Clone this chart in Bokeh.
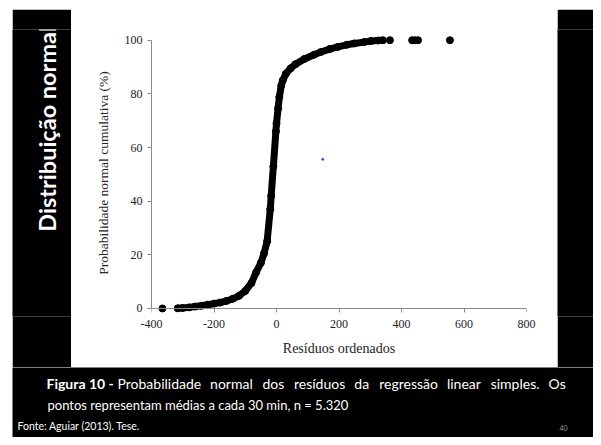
import math
from bokeh.plotting import figure
from bokeh.layouts import row, column
from bokeh.models import Range1d, FixedTicker, LinearAxis
from bokeh.core.properties import value
from bokeh.embed import file_html
from bokeh.resources import INLINE

# ---- data ----
# dense part of the ordered residual curve (Resíduos ordenados, probability %)
curve_x = [-316, -300, -280, -260, -240, -220, -200, -180, -160, -140, -120, -100,
           -80, -65, -50, -40, -30, -20, -17, -10, -2, 0, 5, 9, 15, 20, 30, 45,
           60, 89, 120, 142, 170, 196, 225, 249, 280, 302, 325, 340]
curve_y = [0.05, 0.2, 0.4, 0.7, 1.0, 1.4, 1.8, 2.2, 2.8, 3.6, 4.7, 6.5,
           9.5, 13.5, 17.0, 20.5, 25.0, 37.0, 42.0, 53.0, 66.0, 69.0, 74.5, 78.8, 83.0, 85.0, 87.5, 89.5,
           91.0, 93.0, 94.6, 95.6, 96.7, 97.5, 98.3, 98.8, 99.3, 99.7, 99.9, 100.0]
# isolated extreme residuals
tail_x = [-365, 363, 434, 443, 453, 555]
tail_y = [0.0, 100.0, 100.0, 100.0, 100.0, 100.0]
# stray blue mark in the original figure
stray_x = [148]
stray_y = [55.6]

x_ticks = [-400, -200, 0, 200, 400, 600, 800]
x_tick_labels = ["-400", "-200", "0", "200", "400", "600", "800"]
y_ticks = [0, 20, 40, 60, 80, 100]

title_text = "Distribuição normal"
cap_bold = "Figura 10 -"
cap_line1 = "Probabilidade normal dos resíduos da regressão linear simples. Os"
cap_line2 = "pontos representam médias a cada 30 min, n = 5.320"
cap_source = "Fonte: Aguiar (2013). Tese."
slide_no = "40"

SERIF = "Liberation Serif"
SANS = "Lato"
AX = "#8a8a8a"
INK = "#222222"

W_TOTAL, H_TOTAL = 593, 437
PAD_L, PAD_T = 12, 7          # white page edge around the slide
BAND = 2                      # black band above the chart panel
W_LEFT, W_CHART = 59, 486
W_RIGHT = W_TOTAL - PAD_L - W_LEFT - W_CHART
H_CHART = 358
H_CAP = H_TOTAL - PAD_T - BAND - H_CHART
W_SLIDE = W_TOTAL - PAD_L


def blank(w, h, color):
    f = figure(width=w, height=h, output_backend="svg", toolbar_location=None, min_border=0,
               x_axis_type=None, y_axis_type=None,
               background_fill_color=color, border_fill_color=color, outline_line_color=None)
    f.grid.visible = False
    return f


# ---- chart ----
p = figure(width=W_CHART, height=H_CHART, x_range=Range1d(-400, 800), y_range=Range1d(-3, 104),
           output_backend="svg", toolbar_location=None, x_axis_location=None,
           min_border_left=80, min_border_right=31, min_border_top=20, min_border_bottom=51,
           background_fill_color="white", border_fill_color="white", outline_line_color=None)
p.grid.visible = False

p.line(curve_x, curve_y, line_width=7, color="black", line_cap="round", line_join="round")
p.scatter(curve_x, curve_y, size=7, color="black")
p.scatter(tail_x, tail_y, size=7, color="black")
p.scatter(stray_x, stray_y, size=2, color="#3050d0")

# x-axis line and ticks drawn at y = 0
x_line = LinearAxis(fixed_location=0, ticker=FixedTicker(ticks=x_ticks),
                    axis_line_color=AX, major_tick_line_color=AX, minor_tick_line_color=None,
                    major_tick_in=4, major_tick_out=0,
                    major_label_text_color=None, major_label_text_font_size="1px")
p.add_layout(x_line, "above")
# x-axis tick labels and title
x_lab = LinearAxis(ticker=FixedTicker(ticks=x_ticks), axis_line_color=None,
                   major_label_overrides=dict(zip(x_ticks, x_tick_labels)),
                   major_tick_line_color=None, minor_tick_line_color=None,
                   major_tick_in=0, major_tick_out=0, major_label_standoff=3,
                   major_label_text_font=SERIF, major_label_text_font_size="12px",
                   major_label_text_color=INK,
                   axis_label="Resíduos ordenados", axis_label_text_font=SERIF,
                   axis_label_text_font_style="normal", axis_label_text_font_size="14px",
                   axis_label_text_color=INK, axis_label_standoff=10)
p.add_layout(x_lab, "below")

ya = p.yaxis[0]
ya.ticker = FixedTicker(ticks=y_ticks)
ya.bounds = (0, 100)
ya.axis_line_color = AX
ya.major_tick_line_color = AX
ya.major_tick_out = 4
ya.major_tick_in = 0
ya.minor_tick_line_color = None
ya.major_label_text_font = SERIF
ya.major_label_text_font_size = "12px"
ya.major_label_text_color = INK
ya.axis_label = "Probabilidade normal cumulativa (%)"
ya.axis_label_text_font = SERIF
ya.axis_label_text_font_style = "normal"
ya.axis_label_text_font_size = "13.5px"
ya.axis_label_text_color = INK
ya.axis_label_standoff = 11

# ---- left strip with vertical title ----
left = blank(W_LEFT, H_CHART, "black")
left.x_range = Range1d(0, W_LEFT)
left.y_range = Range1d(0, H_CHART)
left.text(x=[34], y=[H_CHART - 124], text=[title_text], angle=math.pi / 2,
          text_align="center", text_baseline="middle", text_color="white",
          text_font=value(SANS), text_font_style="bold", text_font_size="23.5px")

right = blank(W_RIGHT, H_CHART, "black")

# ---- caption ----
cap = blank(W_SLIDE, H_CAP, "black")
cap.x_range = Range1d(0, W_SLIDE)
cap.y_range = Range1d(0, H_CAP)

# approximate Lato advance widths (em) for justifying the first caption line
_w = dict(a=.49, b=.55, c=.45, d=.55, e=.51, f=.31, g=.50, h=.55, i=.24, j=.24, k=.49, l=.24,
          m=.82, n=.55, o=.55, p=.55, q=.55, r=.36, s=.41, t=.34, u=.55, v=.49, w=.74, x=.48,
          y=.49, z=.45)
_w.update({"ã": .49, "é": .51, "í": .24, "ç": .45, "P": .56, "O": .73, ".": .22})


def word_w(wd, size):
    return sum(_w.get(ch, .5) for ch in wd) * size


FS1 = 14
x_start, x_end = 117 - PAD_L, 564 - PAD_L
words = cap_line1.split(" ")
widths = [word_w(wd, FS1) for wd in words]
gap = (x_end - x_start - sum(widths)) / (len(words) - 1)
xs, cur = [], x_start
for wdt in widths:
    xs.append(cur)
    cur += wdt + gap
y1 = H_TOTAL - 383
cap.text(x=[46 - PAD_L], y=[y1], text=[cap_bold], text_align="left", text_baseline="middle",
         text_color="white", text_font=value(SANS), text_font_style="bold", text_font_size="14px")
cap.text(x=xs, y=[y1] * len(words), text=words, text_align="left", text_baseline="middle",
         text_color="white", text_font=value(SANS), text_font_size=f"{FS1}px")
cap.text(x=[47 - PAD_L], y=[H_TOTAL - 404], text=[cap_line2], text_align="left", text_baseline="middle",
         text_color="white", text_font=value(SANS), text_font_size="13px")
cap.text(x=[17 - PAD_L], y=[H_TOTAL - 425], text=[cap_source], text_align="left", text_baseline="middle",
         text_color="white", text_font=value(SANS), text_font_size="10.5px")
cap.text(x=[563 - PAD_L], y=[H_TOTAL - 427], text=[slide_no], text_align="center", text_baseline="middle",
         text_color="#9a9a9a", text_font=value(SANS), text_font_size="7px")

slide = column(blank(W_SLIDE, BAND, "black"), row(left, p, right), cap)
layout = column(blank(W_TOTAL, PAD_T, "white"), row(blank(PAD_L, H_TOTAL - PAD_T, "white"), slide))
open("out.html", "w").write(file_html(layout, INLINE))
